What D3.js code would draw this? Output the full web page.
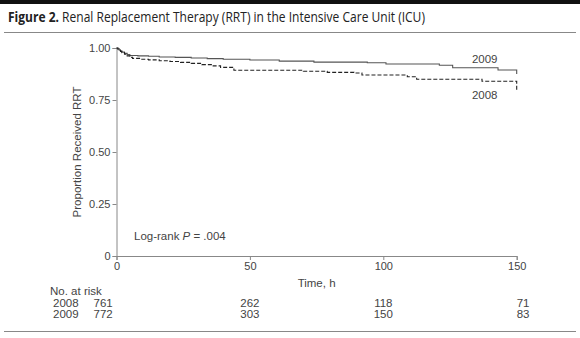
<!DOCTYPE html>
<html>
<head>
<meta charset="utf-8">
<script src="https://cdn.jsdelivr.net/npm/d3@7"></script>
<style>
  body { margin: 0; background: #fff; }
  svg { display: block; }
  .tick text { font-family: 'Liberation Sans', Arial, sans-serif; font-size: 11px; fill: #444; }
  .lbl { font-family: 'Liberation Sans', Arial, sans-serif; font-size: 11.5px; fill: #444; }
</style>
</head>
<body>
<svg class="canvas" width="580" height="338"></svg>
<script>
'use strict';

// Kaplan-Meier steps, time in hours
const times2009 = [0, 0.5, 1, 1.5, 2, 3, 4, 5, 8, 12, 16, 22, 28, 34, 40, 50, 61, 74, 94, 101, 121, 126, 143, 150],
  surv2009 = [1, 0.995, 0.99, 0.985, 0.98, 0.974, 0.968, 0.964, 0.962, 0.96, 0.957, 0.955, 0.952, 0.949, 0.946, 0.942, 0.937, 0.932, 0.929, 0.923, 0.917, 0.905, 0.894, 0.875];
const times2008 = [0, 0.5, 1, 1.5, 2, 3, 4, 5, 6, 9, 12, 16, 20, 24, 28, 32, 36, 39, 44, 70, 79, 89, 92, 109, 112.5, 137, 150],
  surv2008 = [1, 0.995, 0.99, 0.984, 0.978, 0.97, 0.962, 0.955, 0.95, 0.946, 0.943, 0.939, 0.935, 0.931, 0.926, 0.92, 0.914, 0.907, 0.893, 0.888, 0.883, 0.88, 0.87, 0.862, 0.85, 0.84, 0.793];

const xTicks = [0, 50, 100, 150],
  yTicks = [0, 0.25, 0.5, 0.75, 1],
  riskYears = ['2008', '2009'],
  risk2008 = [761, 262, 118, 71],
  risk2009 = [772, 303, 150, 83];

const svg = d3.select('.canvas');
const x = d3.scaleLinear([0, 150], [116.5, 516.7]),
  y = d3.scaleLinear([0, 1], [256, 48]);

// header and rules
svg.append('rect').attr('x', 0).attr('y', 0).attr('width', 580).attr('height', 4).attr('fill', '#111');
const title = svg.append('g')
  .attr('transform', 'translate(8,22) scale(0.86,1)')
  .append('text')
  .style('font-family', "'Open Sans', sans-serif")
  .style('font-size', '14px')
  .attr('fill', '#222');
title.append('tspan').style('font-weight', 'bold').text('Figure 2.');
title.append('tspan').text(' Renal Replacement Therapy (RRT) in the Intensive Care Unit (ICU)');
svg.append('line').attr('x1', 4).attr('x2', 576).attr('y1', 32.5).attr('y2', 32.5).attr('stroke', '#888');
svg.append('line').attr('x1', 4).attr('x2', 576).attr('y1', 331.5).attr('y2', 331.5).attr('stroke', '#888');

// axes
const xAxis = svg.append('g')
  .attr('transform', 'translate(0,256)')
  .call(d3.axisBottom(x).tickValues(xTicks).tickSize(4).tickPadding(2));
const yAxis = svg.append('g')
  .attr('transform', 'translate(116.5,0)')
  .call(d3.axisLeft(y).tickValues(yTicks).tickSize(4).tickPadding(2)
    .tickFormat(d => (d === 0 ? '0' : d3.format('.2f')(d))));
[xAxis, yAxis].forEach(g => {
  g.select('.domain').attr('stroke', '#888');
  g.selectAll('.tick line').attr('stroke', '#888');
});

svg.append('text').attr('class', 'lbl')
  .attr('transform', 'translate(81,152) rotate(-90)')
  .attr('text-anchor', 'middle')
  .text('Proportion Received RRT');
svg.append('text').attr('class', 'lbl')
  .attr('x', x(75)).attr('y', 287)
  .attr('text-anchor', 'middle')
  .text('Time, h');

const lr = svg.append('text').attr('class', 'lbl').attr('x', 134).attr('y', 240);
lr.append('tspan').text('Log-rank ');
lr.append('tspan').style('font-style', 'italic').text('P');
lr.append('tspan').text(' = .004');

// curves
const line = d3.line()
  .x(d => x(d[0]))
  .y(d => y(d[1]))
  .curve(d3.curveStepAfter);
svg.append('path')
  .datum(d3.zip(times2009, surv2009))
  .attr('d', line)
  .attr('fill', 'none')
  .attr('stroke', '#555')
  .attr('stroke-width', 1.1);
svg.append('path')
  .datum(d3.zip(times2008, surv2008))
  .attr('d', line)
  .attr('fill', 'none')
  .attr('stroke', '#222')
  .attr('stroke-width', 1.1)
  .attr('stroke-dasharray', '4,2');

svg.append('text').attr('class', 'lbl').attr('x', x(138)).attr('y', 63).attr('text-anchor', 'middle').text('2009');
svg.append('text').attr('class', 'lbl').attr('x', x(138)).attr('y', 99).attr('text-anchor', 'middle').text('2008');

// numbers at risk
svg.append('text').attr('class', 'lbl').attr('x', 50).attr('y', 295).text('No. at risk');
[risk2008, risk2009].forEach((row, i) => {
  const ty = 307 + i * 11;
  svg.append('text').attr('class', 'lbl').attr('x', 53).attr('y', ty).text(riskYears[i]);
  svg.selectAll(null)
    .data(row)
    .enter()
    .append('text')
    .attr('class', 'lbl')
    .attr('x', (d, j) => (j === 0 ? x(xTicks[j]) - 23 : x(xTicks[j])))
    .attr('y', ty)
    .attr('text-anchor', (d, j) => (j === 0 || j === 3 ? 'start' : 'middle'))
    .text(d => d);
});
</script>
</body>
</html>
